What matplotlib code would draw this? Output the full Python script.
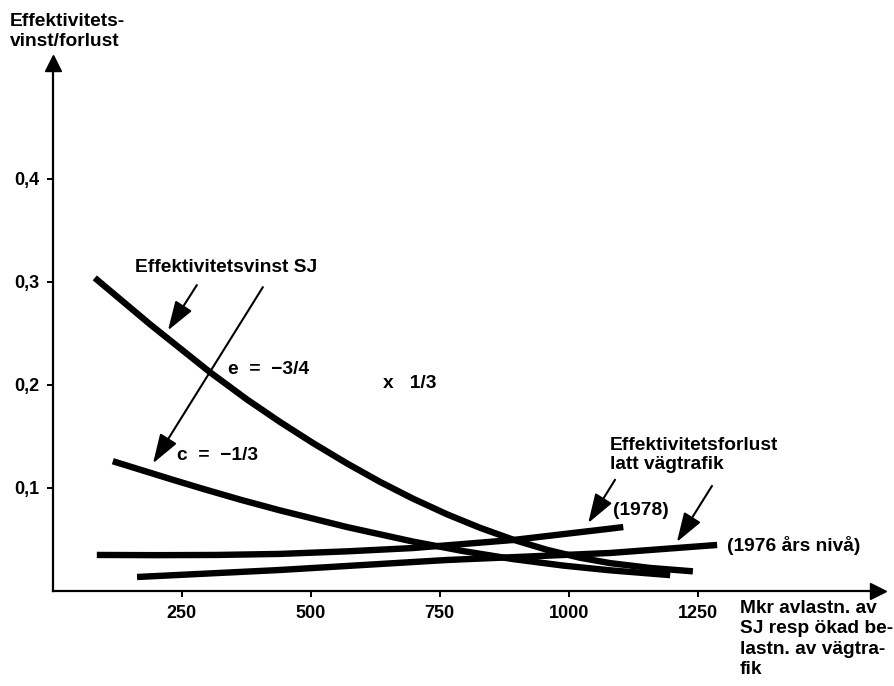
import matplotlib
matplotlib.use("Agg")
import matplotlib.pyplot as plt

# ---- data ----
e_x = [81, 188, 304, 376, 440, 504, 570, 634, 698, 764, 828, 892, 958, 1022, 1080, 1158, 1241]
e_y = [0.304, 0.259, 0.2126, 0.186, 0.1642, 0.1437, 0.1239, 0.106, 0.0897, 0.0745, 0.0614,
       0.0499, 0.040, 0.0323, 0.0271, 0.0224, 0.0191]

c_x = [116, 233, 290, 363, 440, 570, 698, 795, 892, 989, 1080, 1197]
c_y = [0.126, 0.1079, 0.0993, 0.0887, 0.0783, 0.0621, 0.048, 0.0388, 0.031, 0.0247, 0.0201, 0.0154]

l78_x = [85, 200, 318, 440, 570, 698, 892, 1080, 1106]
l78_y = [0.035, 0.0348, 0.035, 0.036, 0.0385, 0.0417, 0.0495, 0.0605, 0.0621]

l76_x = [163, 440, 764, 1080, 1288]
l76_y = [0.0136, 0.0204, 0.0301, 0.0369, 0.0447]

x_ticks = [250, 500, 750, 1000, 1250]
x_ticklabels = ["250", "500", "750", "1000", "1250"]
y_ticks = [0.1, 0.2, 0.3, 0.4]
y_ticklabels = ["0,1", "0,2", "0,3", "0,4"]

plt.rcParams['font.family'] = ['Liberation Sans', 'DejaVu Sans']
plt.rcParams['font.weight'] = 'bold'
FS = 13.8
TFS = 13

fig = plt.figure(figsize=(8.94, 6.86), dpi=100)
W, H = 894, 686
ax = fig.add_axes([53 / W, 95 / H, (878 - 53) / W, (591 - 63) / H])
ax.set_xlim(0, 1600)
ax.set_ylim(0, 0.5126)

lw = 4.6
for xs, ys in [(e_x, e_y), (c_x, c_y), (l78_x, l78_y), (l76_x, l76_y)]:
    ax.plot(xs, ys, color='black', lw=lw, solid_capstyle='butt', solid_joinstyle='round')

for s in ['top', 'right']:
    ax.spines[s].set_visible(False)
for s in ['left', 'bottom']:
    ax.spines[s].set_linewidth(1.6)

# axis arrowheads
ax.plot(1, 0, marker='>', color='black', markersize=11, transform=ax.transAxes, clip_on=False)
ax.plot(0, 1, marker='^', color='black', markersize=11, transform=ax.transAxes, clip_on=False)

ax.set_xticks(x_ticks)
ax.set_xticklabels(x_ticklabels)
ax.set_yticks(y_ticks)
ax.set_yticklabels(y_ticklabels)
ax.tick_params(direction='out', length=4, width=1.4, labelsize=TFS, pad=6)

arrow = dict(arrowstyle='-|>,head_length=0.9,head_width=0.3', lw=1.5, color='black',
             mutation_scale=20, shrinkA=0, shrinkB=0)

ax.text(336, 0.3136, "Effektivitetsvinst SJ", ha='center', va='center', fontsize=FS)
ax.annotate("", xy=(223, 0.253), xytext=(279, 0.297), arrowprops=arrow)
ax.annotate("", xy=(194, 0.124), xytext=(407, 0.295), arrowprops=arrow)

ax.text(339, 0.2155, "e  =  \u22123/4", ha='left', va='center', fontsize=FS)
ax.text(640, 0.201, "x   1/3", ha='left', va='center', fontsize=FS)
ax.text(240, 0.132, "c  =  \u22121/3", ha='left', va='center', fontsize=FS)

ax.text(1080, 0.132, "Effektivitetsforlust\nlatt vägtrafik", ha='left', va='center',
        fontsize=FS, linespacing=1.1)
ax.annotate("", xy=(1038, 0.066), xytext=(1090, 0.108), arrowprops=arrow)
ax.annotate("", xy=(1210, 0.0476), xytext=(1278, 0.102), arrowprops=arrow)

ax.text(1086, 0.0786, "(1978)", ha='left', va='center', fontsize=FS)
ax.text(1307, 0.0437, "(1976 års nivå)", ha='left', va='center', fontsize=FS)

fig.text(740 / W, (686 - 600) / H, "Mkr avlastn. av\nSJ resp ökad be-\nlastn. av vägtra-\nfik",
         ha='left', va='top', fontsize=FS, linespacing=1.25)
fig.text(10 / W, (686 - 13) / H, "Effektivitets-\nvinst/forlust", ha='left', va='top',
         fontsize=FS, linespacing=1.25)

fig.savefig("out.png", dpi=100, facecolor='white')
